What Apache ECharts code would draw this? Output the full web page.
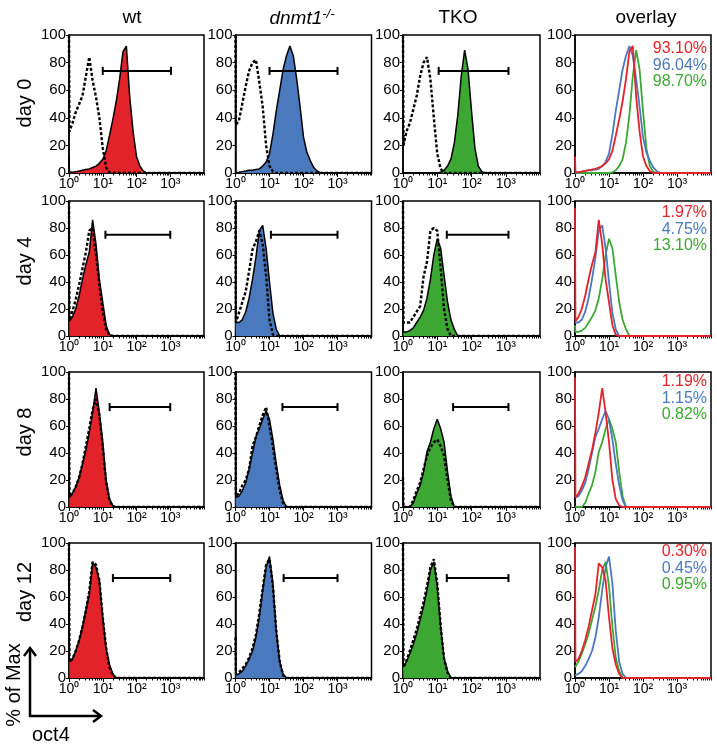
<!DOCTYPE html>
<html><head><meta charset="utf-8">
<script src="https://cdn.jsdelivr.net/npm/echarts@6/dist/echarts.min.js"></script>
<style>html,body{margin:0;padding:0;background:#fff}#c{width:717px;height:745px}</style>
</head><body><div id="c"></div>
<script>
// ---- data ----
// histogram bin positions (oct4 intensity, log-spaced)
const xBins = [1, 1.03, 1.26, 1.58, 2, 2.51, 3.16, 3.98, 5.01, 6.31, 7.94, 10,
  12.6, 15.8, 20, 25.1, 31.6, 39.8, 50.1, 63.1, 79.4, 100,
  126, 158, 200, 251, 316, 398, 501, 631, 794, 1000, 10000];

const columnTitles = ['wt', 'dnmt1', 'TKO', 'overlay'];
const rowLabels = ['day 0', 'day 4', 'day 8', 'day 12'];
const xTickLabels = ['10⁰', '10¹', '10²', '10³'];

// day 0
const wt0   = [12,1, 0.5,1,1.5,2,2.5,3,4,5,7,10, 16,27,39,52,68,88,92,55,30,12, 5,1.5,0,0,0,0,0,0,0,0, 0];
const wt0c  = [100,30, 36,44,50,56,70,84,67,55,40,18, 4,0.5,0,0,0,0,0,0,0,0, 0,0,0,0,0,0,0,0,0,0, 0];
const dn0   = [0,0, 0.5,1,1.5,2,2,2.5,3,5,8,14, 28,45,60,75,85,92,85,68,48,26, 15,9,4,1.5,0,0,0,0,0,0, 0];
const dn0c  = [100,35, 38,50,63,74,80,82,66,48,20,5, 1,0,0,0,0,0,0,0,0,0, 0,0,0,0,0,0,0,0,0,0, 0];
const tko0  = [0,0, 0,0,0,0,0,0,0,0,0,0, 0.5,2,5,10,22,42,70,89,75,45, 18,5,1,0,0,0,0,0,0,0, 0];
const tko0c = [100,20, 30,36,46,56,70,80,84,68,40,14, 3,0,0,0,0,0,0,0,0,0, 0,0,0,0,0,0,0,0,0,0, 0];
// day 4
const wt4   = [95,11, 14,20,30,42,53,62,86,68,42,25, 8,1,0,0,0,0,0,0,0,0, 0,0,0,0,0,0,0,0,0,0, 0];
const wt4c  = [100,12, 18,27,38,50,62,78,80,60,38,18, 5,1,0,0,0,0,0,0,0,0, 0,0,0,0,0,0,0,0,0,0, 0];
const dn4   = [10,10, 10,12,18,28,42,58,78,82,65,40, 17,5,0,0,0,0,0,0,0,0, 0,0,0,0,0,0,0,0,0,0, 0];
const dn4c  = [100,10, 17,25,33,48,64,70,78,68,45,12, 1,0,0,0,0,0,0,0,0,0, 0,0,0,0,0,0,0,0,0,0, 0];
const tko4  = [8,3, 3,4,6,10,14,19,28,42,60,72, 65,45,25,12,5,0,0,0,0,0, 0,0,0,0,0,0,0,0,0,0, 0];
const tko4c = [100,10, 10,10,14,18,22,44,55,78,80,78, 50,20,5,0,0,0,0,0,0,0, 0,0,0,0,0,0,0,0,0,0, 0];
// day 8
const wt8   = [96,7, 10,15,22,32,42,55,70,88,70,48, 20,6,1,0,0,0,0,0,0,0, 0,0,0,0,0,0,0,0,0,0, 0];
const wt8c  = [100,8, 10,15,22,32,45,58,72,80,68,45, 18,5,0,0,0,0,0,0,0,0, 0,0,0,0,0,0,0,0,0,0, 0];
const dn8   = [7,7, 8,12,18,28,40,52,58,65,71,65, 50,32,16,5,0,0,0,0,0,0, 0,0,0,0,0,0,0,0,0,0, 0];
const dn8c  = [100,8, 10,16,20,28,45,52,60,68,74,60, 45,28,12,3,0,0,0,0,0,0, 0,0,0,0,0,0,0,0,0,0, 0];
const tko8  = [0,0, 0,0,3,10,16,26,41,48,58,65, 58,48,26,8,0,0,0,0,0,0, 0,0,0,0,0,0,0,0,0,0, 0];
const tko8c = [22,0, 0,0,5,12,18,28,38,44,48,50, 45,38,20,5,0,0,0,0,0,0, 0,0,0,0,0,0,0,0,0,0, 0];
// day 12
const wt12   = [97,12, 14,20,28,38,50,62,85,82,72,45, 22,10,3,0,0,0,0,0,0,0, 0,0,0,0,0,0,0,0,0,0, 0];
const wt12c  = [100,12, 14,20,28,38,50,64,86,84,72,45, 22,8,2,0,0,0,0,0,0,0, 0,0,0,0,0,0,0,0,0,0, 0];
const dn12   = [2,2, 3,5,9,14,20,30,45,65,82,90, 70,35,12,3,0,0,0,0,0,0, 0,0,0,0,0,0,0,0,0,0, 0];
const dn12c  = [30,3, 4,7,10,15,22,32,48,66,84,88, 68,35,12,2,0,0,0,0,0,0, 0,0,0,0,0,0,0,0,0,0, 0];
const tko12  = [8,8, 12,18,25,33,43,53,65,80,86,68, 38,15,5,0,0,0,0,0,0,0, 0,0,0,0,0,0,0,0,0,0, 0];
const tko12c = [100,8, 13,20,28,36,46,56,68,82,88,70, 38,14,4,0,0,0,0,0,0,0, 0,0,0,0,0,0,0,0,0,0, 0];

// gate bars [from, to] per row per column, and gate level (% of max)
const gates = [
  [[10,1050],[10,1000],[11,1200]],
  [[12,1000],[11,1000],[19,1200]],
  [[16,1000],[24,1000],[29,1200]],
  [[20,1000],[26,1000],[19,1200]]
];
const gateLevel = [74, 75, 74, 74];

// percentages shown in overlay panels (wt, dnmt1, TKO)
const pctLabels = [
  ['93.10%','96.04%','98.70%'],
  ['1.97%','4.75%','13.10%'],
  ['1.19%','1.15%','0.82%'],
  ['0.30%','0.45%','0.95%']
];

const samples  = [[wt0,dn0,tko0],[wt4,dn4,tko4],[wt8,dn8,tko8],[wt12,dn12,tko12]];
const controls = [[wt0c,dn0c,tko0c],[wt4c,dn4c,tko4c],[wt8c,dn8c,tko8c],[wt12c,dn12c,tko12c]];
const minorTickVals = [1,2,3,4,5,6,7,8,9,10,20,30,40,50,60,70,80,90,100,200,300,400,500,600,700,800,900,1000,2000,3000,4000,5000,6000,7000,8000,9000,10000];

// ---- layout ----
const colors = ['#e3232a', '#4a79bd', '#3da733'];
const colLeft = [69, 235.5, 403, 575];
const colWidth = [135, 136, 137, 136];
const rowTop = [35, 201, 372, 543];
const rowHeight = [138, 135, 135, 135];
const titleX = [132, 302, 458, 646];
const rowLabelY = [103, 261, 432, 592];
const pctY = [[49,66,82],[213,230,246],[382,399,415],[552,569,585]];
const FONT = 'Liberation Sans, Arial, sans-serif';

const toPairs = ys => xBins.map((x, i) => [x, ys[i]]);

const grids = [], xAxes = [], yAxes = [], series = [];
for (let r = 0; r < 4; r++) {
  for (let c = 0; c < 4; c++) {
    const gi = r * 4 + c;
    grids.push({left: colLeft[c], top: rowTop[r], width: colWidth[c], height: rowHeight[r],
      show: true, borderColor: '#000', borderWidth: 1.5, backgroundColor: '#fff', containLabel: false});
    xAxes.push({type: 'log', logBase: 10, gridIndex: gi, min: 1, max: 10000, position: 'bottom',
      axisLine: {lineStyle: {color: '#000', width: 1.5}},
      axisTick: {show: true, inside: false, length: 4, lineStyle: {color: '#000', width: 1}},
      splitLine: {show: false},
      axisLabel: {color: '#000', fontFamily: FONT, fontSize: 14, margin: 4, showMaxLabel: false,
        formatter: v => { const e = Math.round(Math.log10(v)); return e > 3 ? '' : xTickLabels[e]; }}});
    xAxes.push({type: 'log', logBase: 10, gridIndex: gi, min: 1, max: 10000, position: 'bottom',
      axisLine: {show: false}, axisLabel: {show: false}, splitLine: {show: false},
      axisTick: {show: true, length: 2.5, customValues: minorTickVals, lineStyle: {color: '#000', width: 1}}});
    yAxes.push({type: 'value', gridIndex: gi, min: 0, max: 100, interval: 20,
      axisLine: {show: true, lineStyle: {color: '#000', width: 1.5}},
      axisTick: {show: true, length: 3, lineStyle: {color: '#000'}},
      splitLine: {show: false},
      axisLabel: {color: '#000', fontFamily: FONT, fontSize: 15, margin: 3}});
    const xi = gi * 2;
    if (c < 3) {
      series.push({type: 'line', xAxisIndex: xi, yAxisIndex: gi, data: toPairs(samples[r][c]),
        showSymbol: false, symbol: 'none', z: 2, animation: false,
        lineStyle: {color: '#000', width: 1.5}, areaStyle: {color: colors[c], opacity: 1}});
      series.push({type: 'line', xAxisIndex: xi, yAxisIndex: gi, data: toPairs(controls[r][c]),
        showSymbol: false, symbol: 'none', z: 3, animation: false,
        lineStyle: {color: '#000', width: 2.4, type: [3, 2]}});
      series.push({type: 'line', xAxisIndex: xi, yAxisIndex: gi,
        data: [[gates[r][c][0], gateLevel[r]], [gates[r][c][1], gateLevel[r]]],
        symbol: 'rect', symbolSize: [2, 8], showSymbol: true, z: 4, animation: false,
        itemStyle: {color: '#000'}, lineStyle: {color: '#000', width: 2}});
    } else {
      [2, 1, 0].forEach(k => {
        series.push({type: 'line', xAxisIndex: xi, yAxisIndex: gi, data: toPairs(samples[r][k]),
          showSymbol: false, symbol: 'none', z: 2, animation: false,
          lineStyle: {color: colors[k], width: 1.8}});
      });
    }
  }
}

const graphic = [];
columnTitles.forEach((t, c) => {
  if (c === 1) {
    graphic.push({type: 'text', x: titleX[c], y: 18, style: {
      text: '{i|' + t + '}{s|-/-}', align: 'center', verticalAlign: 'middle',
      rich: {i: {fontFamily: FONT, fontSize: 19, fontStyle: 'italic', fill: '#000', verticalAlign: 'bottom'},
             s: {fontFamily: FONT, fontSize: 13, fontStyle: 'italic', fill: '#000', verticalAlign: 'bottom', padding: [0,0,8,0]}}}});
  } else {
    graphic.push({type: 'text', x: titleX[c], y: 18, style: {text: t, align: 'center', verticalAlign: 'middle',
      font: '19px ' + FONT, fill: '#000'}});
  }
});
rowLabels.forEach((t, r) => {
  graphic.push({type: 'text', x: 25, y: rowLabelY[r], rotation: Math.PI / 2,
    style: {text: t, align: 'center', verticalAlign: 'middle', font: '20px ' + FONT, fill: '#000'}});
});
pctLabels.forEach((arr, r) => {
  arr.forEach((t, k) => {
    graphic.push({type: 'text', x: 707, y: pctY[r][k], z: 10,
      style: {text: t, align: 'right', verticalAlign: 'middle', font: '16px ' + FONT, fill: colors[k]}});
  });
});
// axis-explanation arrows
graphic.push({type: 'polyline', shape: {points: [[30, 649], [30, 716], [101, 716]]},
  style: {stroke: '#000', lineWidth: 2.5, fill: null}});
graphic.push({type: 'polyline', shape: {points: [[24, 656], [30, 648], [36, 656]]},
  style: {stroke: '#000', lineWidth: 2.5, fill: null}});
graphic.push({type: 'polyline', shape: {points: [[93, 710], [101, 716], [93, 722]]},
  style: {stroke: '#000', lineWidth: 2.5, fill: null}});
graphic.push({type: 'text', x: 14, y: 685, rotation: Math.PI / 2,
  style: {text: '% of Max', align: 'center', verticalAlign: 'middle', font: '20px ' + FONT, fill: '#000'}});
graphic.push({type: 'text', x: 32, y: 735,
  style: {text: 'oct4', align: 'left', verticalAlign: 'middle', font: '20px ' + FONT, fill: '#000'}});

const chart = echarts.init(document.getElementById('c'), null, {renderer: 'canvas'});
chart.setOption({animation: false, backgroundColor: '#fff', grid: grids, xAxis: xAxes, yAxis: yAxes, series, graphic});
</script></body></html>
